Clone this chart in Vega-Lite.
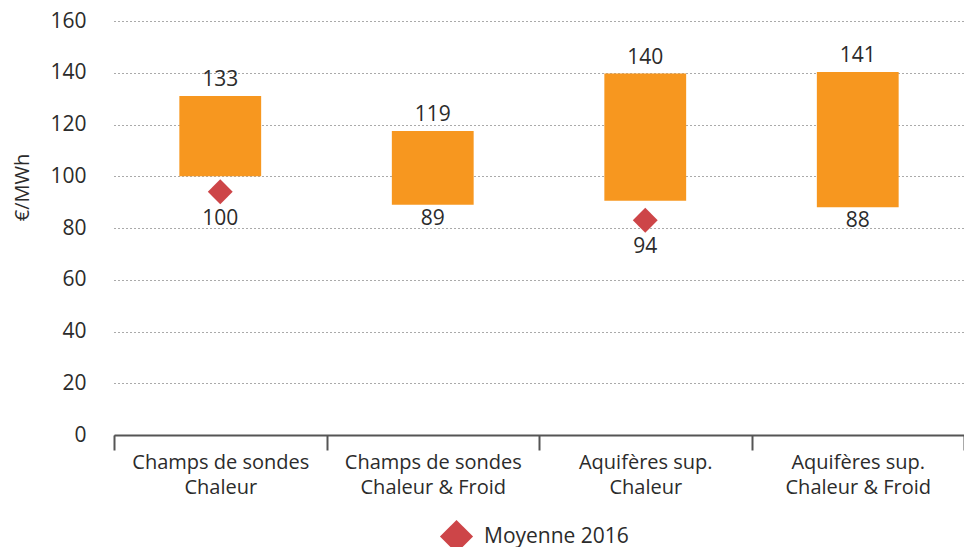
{
  "$schema": "https://vega.github.io/schema/vega-lite/v6.json",
  "width": 850,
  "height": 414,
  "autosize": {"type": "none"},
  "padding": {"left": 114, "top": 21, "right": 0, "bottom": 112},
  "background": "white",
  "config": {
    "view": {"stroke": null},
    "font": "Open Sans",
    "axis": {"labelFont": "Open Sans", "titleFont": "Open Sans", "labelColor": "#2b2b2b", "titleColor": "#2b2b2b"}
  },
  "data": {
    "values": [
      {"cat": "Champs de sondes|Chaleur", "low": 100, "high": 131, "lowLabel": "100", "highLabel": "133", "moyenne": 94},
      {"cat": "Champs de sondes|Chaleur & Froid", "low": 89, "high": 117.5, "lowLabel": "89", "highLabel": "119", "moyenne": null},
      {"cat": "Aquifères sup.|Chaleur", "low": 90.5, "high": 139.7, "lowLabel": "94", "highLabel": "140", "moyenne": 83},
      {"cat": "Aquifères sup.|Chaleur & Froid", "low": 88, "high": 140.3, "lowLabel": "88", "highLabel": "141", "moyenne": null}
    ]
  },
  "encoding": {
    "x": {
      "field": "cat",
      "type": "nominal",
      "sort": null,
      "scale": {"paddingInner": 0, "paddingOuter": 0},
      "axis": {
        "title": null,
        "labelAngle": 0,
        "labelExpr": "split(datum.label, '|')",
        "labelFontSize": 20,
        "labelLineHeight": 25,
        "labelPadding": 2,
        "tickBand": "extent",
        "tickSize": 15,
        "tickColor": "#555555",
        "tickWidth": 2,
        "domainColor": "#555555",
        "domainWidth": 2,
        "labelLimit": 300
      }
    }
  },
  "layer": [
    {
      "mark": {"type": "bar", "color": "#f7971f", "width": {"band": 0.385}},
      "encoding": {
        "y": {
          "field": "low",
          "type": "quantitative",
          "scale": {"domain": [0, 160], "nice": false},
          "axis": {
            "title": "€/MWh",
            "titleFontSize": 20,
            "titleFontWeight": "normal",
            "titleX": -92,
            "titleY": 166,
            "titleBaseline": "middle",
            "values": [0, 20, 40, 60, 80, 100, 120, 140, 160],
            "labelFontSize": 21,
            "labelPadding": 28,
            "domain": false,
            "ticks": false,
            "grid": true,
            "gridColor": "#555555",
            "gridDash": [1, 3],
            "gridWidth": 1
          }
        },
        "y2": {"field": "high"}
      }
    },
    {
      "mark": {"type": "text", "baseline": "middle", "dy": -16, "fontSize": 21, "color": "#2b2b2b"},
      "encoding": {
        "y": {"field": "high", "type": "quantitative"},
        "text": {"field": "highLabel"}
      }
    },
    {
      "transform": [{"filter": "datum.moyenne == null"}],
      "mark": {"type": "text", "baseline": "middle", "dy": 14, "fontSize": 21, "color": "#2b2b2b"},
      "encoding": {
        "y": {"field": "low", "type": "quantitative"},
        "text": {"field": "lowLabel"}
      }
    },
    {
      "transform": [{"filter": "datum.moyenne != null"}],
      "mark": {"type": "text", "baseline": "middle", "dy": 27, "fontSize": 21, "color": "#2b2b2b"},
      "encoding": {
        "y": {"field": "moyenne", "type": "quantitative"},
        "text": {"field": "lowLabel"}
      }
    },
    {
      "transform": [{"filter": "datum.moyenne != null"}],
      "mark": {"type": "point", "shape": "diamond", "filled": true, "size": 620, "opacity": 1},
      "encoding": {
        "y": {"field": "moyenne", "type": "quantitative"},
        "color": {
          "datum": "Moyenne 2016",
          "type": "nominal",
          "scale": {"range": ["#cd4548"]},
          "legend": {
            "title": null,
            "orient": "none",
            "legendX": 325,
            "legendY": 498,
            "symbolType": "diamond",
            "symbolSize": 1100,
            "symbolOpacity": 1,
            "labelFontSize": 21,
            "labelColor": "#2b2b2b",
            "labelFont": "Open Sans",
            "labelOffset": 10
          }
        }
      }
    }
  ]
}
